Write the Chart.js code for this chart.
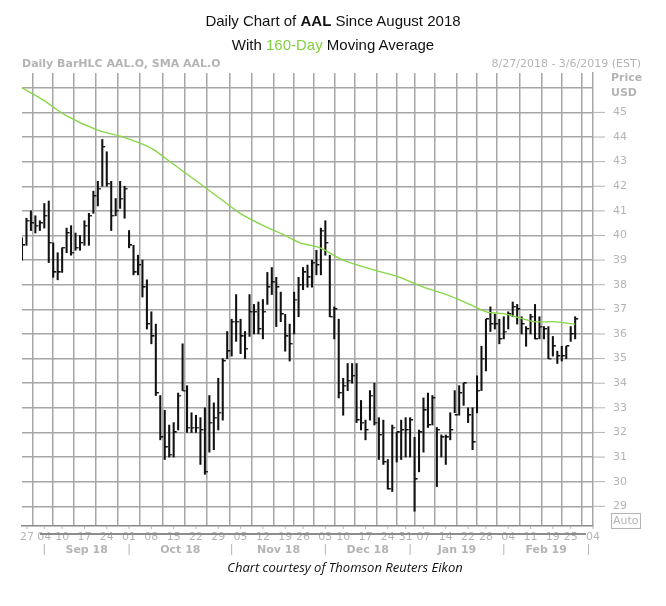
<!DOCTYPE html>
<html>
<head>
<meta charset="utf-8">
<script src="https://cdn.jsdelivr.net/npm/chart.js@4.4.1/dist/chart.umd.min.js"></script>
<style>
  body { margin: 0; background: #fff; }
  #wrap { position: relative; width: 666px; height: 606px; }
  #chart { position: absolute; left: 0; top: 0; }
  .t { position: absolute; width: 666px; text-align: center; font-family: "Liberation Sans", Arial, sans-serif; font-size: 15px; color: #111; }
  .g { color: #7fd13b; }
  #foot { position: absolute; left: 0; width: 690px; top: 558px; text-align: center; font-family: "Open Sans", sans-serif; font-style: italic; font-size: 13px; color: #111; }
</style>
</head>
<body>
<div id="wrap">
  <canvas id="chart" width="666" height="606"></canvas>
  <div class="t" style="top:12px">Daily Chart of <b>AAL</b> Since August 2018</div>
  <div class="t" style="top:36px">With <span class="g">160-Day</span> Moving Average</div>
  <div id="foot">Chart courtesy of Thomson Reuters Eikon</div>
</div>
<script>
// daily high / low / close, one per trading day from 8/27/2018
const highs = [39.9, 40.7, 41.0, 40.8, 40.6, 41.3, 41.4, 39.7, 39.3, 39.5,
  40.3, 40.4, 40.1, 40.0, 40.6, 40.9, 41.8, 42.2, 43.9, 43.4,
  42.2, 41.5, 42.2, 42.0, 40.2, 39.6, 39.2, 39.0, 38.2, 36.9,
  36.4, 33.5, 32.9, 32.3, 32.4, 33.6, 35.6, 33.9, 32.8, 32.7,
  32.6, 33.0, 33.5, 33.2, 34.2, 35.0, 36.1, 36.6, 37.6, 36.6,
  36.1, 37.6, 37.2, 37.3, 37.4, 38.5, 38.7, 38.3, 37.7, 36.8,
  36.4, 37.7, 38.3, 38.7, 38.8, 39.0, 39.4, 40.3, 40.6, 39.2,
  37.1, 36.6, 34.2, 34.8, 34.8, 34.8, 33.3, 32.5, 33.7, 34.0,
  32.6, 32.5, 30.9, 32.3, 32.0, 32.5, 32.6, 32.6, 31.8, 32.1,
  33.4, 33.6, 33.5, 32.2, 31.9, 31.9, 32.8, 33.7, 33.9, 34.0,
  33.0, 33.0, 34.3, 35.5, 36.6, 37.1, 36.8, 36.6, 36.7, 36.9,
  37.3, 37.2, 36.7, 36.3, 36.8, 37.2, 36.7, 36.3, 36.3, 35.9,
  35.3, 35.5, 35.5, 36.3, 36.7];
const lows = [39.0, 39.6, 40.2, 40.1, 40.2, 40.3, 38.9, 38.3, 38.2, 38.5,
  39.3, 39.2, 39.4, 39.4, 39.6, 39.6, 40.9, 41.2, 42.0, 42.0,
  40.2, 40.8, 41.1, 40.7, 39.5, 38.4, 38.4, 37.5, 36.2, 35.6,
  33.5, 31.7, 30.9, 31.0, 31.0, 32.1, 33.7, 32.0, 32.0, 32.0,
  30.7, 30.3, 31.2, 31.3, 32.1, 32.5, 35.0, 35.1, 35.7, 35.2,
  35.0, 35.9, 36.0, 36.0, 35.8, 37.2, 37.6, 36.3, 36.5, 35.3,
  34.9, 36.0, 36.7, 37.8, 37.9, 37.9, 38.4, 38.4, 39.2, 36.7,
  35.8, 33.4, 32.7, 33.7, 34.0, 32.4, 32.1, 31.7, 32.5, 32.3,
  30.9, 30.7, 29.7, 29.6, 30.8, 30.9, 31.0, 31.0, 28.8, 30.4,
  31.2, 32.2, 32.3, 29.8, 31.0, 30.7, 31.7, 32.8, 32.7, 33.1,
  32.4, 31.3, 32.8, 33.7, 34.5, 36.1, 36.2, 35.6, 35.8, 36.2,
  36.7, 36.4, 36.0, 35.5, 36.0, 35.8, 35.8, 35.8, 35.0, 35.1,
  34.8, 34.9, 35.0, 35.7, 35.8];
const closes = [39.6, 40.6, 40.5, 40.4, 40.5, 40.8, 39.7, 38.5, 38.5, 39.5,
  40.1, 39.3, 39.5, 39.7, 40.4, 40.8, 41.6, 41.9, 43.6, 42.1,
  40.8, 41.0, 41.5, 41.9, 39.6, 38.5, 38.8, 37.9, 36.4, 35.9,
  33.6, 31.8, 31.4, 31.1, 32.0, 33.5, 33.7, 32.2, 32.2, 32.2,
  32.1, 30.4, 32.4, 32.6, 32.8, 34.9, 35.3, 36.5, 36.5, 35.9,
  35.4, 36.9, 36.9, 36.2, 36.9, 37.9, 38.1, 37.9, 36.8, 35.9,
  35.6, 37.4, 38.0, 38.5, 38.3, 38.9, 38.8, 40.2, 39.7, 36.7,
  37.0, 33.6, 33.9, 34.1, 34.3, 32.5, 32.4, 32.1, 33.5, 32.4,
  31.9, 30.8, 29.7, 32.2, 32.0, 32.1, 32.1, 32.5, 30.1, 32.0,
  32.9, 32.3, 33.4, 32.1, 31.8, 31.8, 32.1, 32.7, 33.6, 34.0,
  32.7, 31.6, 33.7, 35.0, 36.6, 36.4, 36.4, 35.8, 36.1, 36.8,
  37.1, 37.0, 36.4, 36.2, 36.7, 35.8, 36.3, 36.2, 35.0, 35.5,
  35.1, 35.1, 35.5, 36.0, 36.6];

// 160-day SMA (trading-day index, price)
const smaDays = [0, 4.8, 9.6, 16.7, 22.7, 25.7, 29.4, 33.9, 39.2, 44.4, 48.9, 54.1, 59, 62.3, 66.8,
  72, 78.8, 84.7, 90, 95.2, 100.4, 104.1, 108.7, 114.7, 119, 124];
const smaValues = [46.0, 45.5, 44.9, 44.3, 44.0, 43.8, 43.5, 42.9, 42.2, 41.5, 40.9, 40.4, 40.0, 39.7, 39.5,
  39.0, 38.6, 38.3, 37.9, 37.6, 37.2, 36.9, 36.8, 36.5, 36.5, 36.4];

// week starts (trading-day index) and their labels
const weekIdx = [0, 5, 9, 14, 19, 24, 29, 34, 39, 44, 49, 54, 59, 63, 68, 72, 77, 82, 86, 90, 95, 100, 104, 109, 114, 119, 123, 128];
const weekLabels = ['27', '04', '10', '17', '24', '01', '08', '15', '22', '29', '05', '12', '19', '26', '03', '10', '17', '24', '31', '07', '14', '22', '28', '04', '11', '19', '25', '04'];
const monthIdx = [5, 24, 47, 68, 87, 108, 127];
const monthLabels = ['Sep 18', 'Oct 18', 'Nov 18', 'Dec 18', 'Jan 19', 'Feb 19'];
const priceTicks = [29, 30, 31, 32, 33, 34, 35, 36, 37, 38, 39, 40, 41, 42, 43, 44, 45, 46];

// tick for close, drawn on the right side of each bar
const closeTick = document.createElement('canvas');
closeTick.width = 8; closeTick.height = 2;
const ctc = closeTick.getContext('2d');
ctc.fillStyle = '#111';
ctc.fillRect(4, 0, 3, 1.4);

const grey = '#b4b4b4';
const labels = {
  id: 'labels',
  afterDraw(chart) {
    const c = chart.ctx, x = chart.scales.x, y = chart.scales.y, a = chart.chartArea;
    c.save();
    c.fillStyle = grey;
    c.strokeStyle = grey;
    c.font = 'bold 11px "DejaVu Sans", sans-serif';
    c.textBaseline = 'middle';
    c.fillText('Daily BarHLC AAL.O, SMA AAL.O', 22, 64);
    c.font = '11px "DejaVu Sans", sans-serif';
    c.textAlign = 'right';
    c.fillText('8/27/2018 - 3/6/2019 (EST)', 641, 64);
    c.textAlign = 'left';
    c.font = 'bold 11px "DejaVu Sans", sans-serif';
    c.fillText('Price', 611, 78);
    c.fillText('USD', 611, 93);
    c.font = '11px "DejaVu Sans", sans-serif';
    c.lineWidth = 1;
    priceTicks.slice(0, -1).forEach(p => {
      const py = y.getPixelForValue(p);
      c.beginPath(); c.moveTo(a.right, py); c.lineTo(a.right + 12, py); c.stroke();
      c.fillText(String(p), 613, py);
    });
    // Auto box
    c.strokeRect(611.5, 513.5, 29, 15);
    c.fillText('Auto', 613, 521);
    // week labels
    c.textAlign = 'center';
    weekIdx.forEach((d, i) => {
      let px = x.getPixelForValue(d);
      if (i === 0) px += 5;
      c.fillText(weekLabels[i], px, 537);
      c.beginPath(); c.moveTo(px, a.bottom); c.lineTo(px, a.bottom + 3); c.stroke();
    });
    // month separators and labels
    c.font = 'bold 11px "DejaVu Sans", sans-serif';
    monthIdx.forEach((d, i) => {
      const px = x.getPixelForValue(d);
      c.beginPath(); c.moveTo(px, 544); c.lineTo(px, 555); c.stroke();
      if (i < monthLabels.length) {
        const nx = x.getPixelForValue(monthIdx[i + 1]);
        c.fillText(monthLabels[i], (px + nx) / 2, 550);
      }
    });
    // bottom slider bar
    c.fillStyle = '#8c8c8c';
    c.fillRect(40, 533, 546, 2);
    c.restore();
  }
};

new Chart(document.getElementById('chart'), {
  data: {
    datasets: [{
      type: 'bar',
      data: highs.map((h, i) => ({ x: i, y: [lows[i], h] })),
      backgroundColor: '#111',
      barThickness: 1.4,
      order: 2
    }, {
      type: 'scatter',
      data: closes.map((v, i) => ({ x: i, y: v })),
      pointStyle: closeTick,
      order: 1
    }, {
      type: 'line',
      data: smaDays.map((d, i) => ({ x: d, y: smaValues[i] })),
      borderColor: '#86d645',
      borderWidth: 1.3,
      pointRadius: 0,
      tension: 0.3,
      order: 0
    }]
  },
  plugins: [labels],
  options: {
    responsive: false,
    animation: false,
    events: [],
    layout: { padding: { left: 22, top: 73, right: 73, bottom: 80 } },
    plugins: { legend: { display: false }, tooltip: { enabled: false } },
    scales: {
      x: {
        type: 'linear', min: 0, max: 128, offset: false,
        afterBuildTicks: s => { s.ticks = weekIdx.map(v => ({ value: v })); },
        ticks: { display: false },
        grid: { color: '#a6a6a6', lineWidth: 1.5, drawTicks: false },
        border: { color: '#888', width: 1.5 }
      },
      y: {
        position: 'right', min: 28.2, max: 46.6,
        afterBuildTicks: s => { s.ticks = priceTicks.map(v => ({ value: v })); },
        ticks: { display: false },
        grid: { color: '#a6a6a6', lineWidth: 1.5, drawTicks: false },
        border: { color: '#a6a6a6', width: 1.5 }
      }
    }
  }
});
</script>
</body>
</html>
